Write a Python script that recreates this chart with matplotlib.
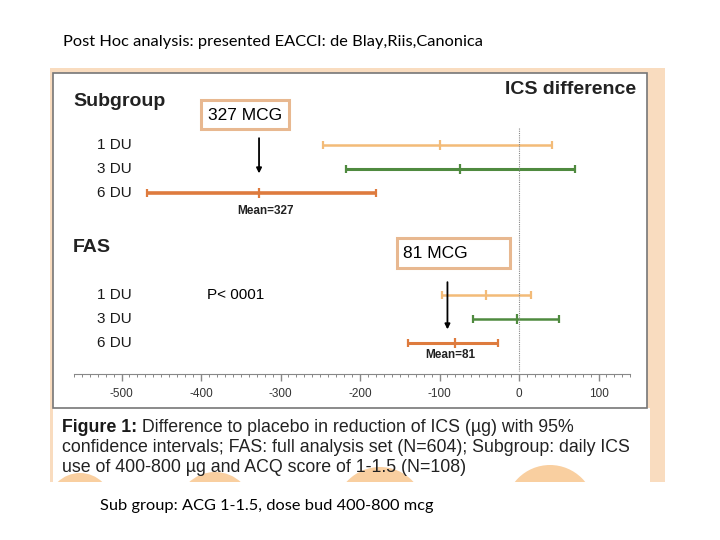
import matplotlib.pyplot as plt
import matplotlib.patches as mpatches
import numpy as np

plt.rcParams["axes.unicode_minus"] = False

# data: difference to placebo in ICS reduction (ug), 95% CI
doses = ["1 DU", "3 DU", "6 DU"]
colors = ["#f3bb78", "#4f8a3f", "#de7b3e"]

sub_mean = [-100, -74, -327]
sub_lo = [-247, -217, -468]
sub_hi = [42, 71, -180]

fas_mean = [-41, -3, -81]
fas_lo = [-97, -58, -139]
fas_hi = [15, 50, -27]

title = "Post Hoc analysis: presented EACCI: de Blay,Riis,Canonica"
footer = "Sub group: ACG 1-1.5, dose bud 400-800 mcg"
caption_bold = "Figure 1:"
caption_lines = [" Difference to placebo in reduction of ICS (\u00b5g) with 95%",
                 "confidence intervals; FAS: full analysis set (N=604); Subgroup: daily ICS",
                 "use of 400-800 \u00b5g and ACQ score of 1-1.5 (N=108)"]

W, H = 720, 540
fig = plt.figure(figsize=(7.2, 5.4), dpi=100)
fig.patch.set_facecolor("white")

# background axes in pixel coordinates
bg = fig.add_axes([0, 0, 1, 1])
bg.set_xlim(0, W)
bg.set_ylim(H, 0)
bg.axis("off")

peach = "#f9dcbf"
bg.add_patch(mpatches.Rectangle((50, 68), 615, 414, color=peach, lw=0))
bg.add_patch(mpatches.Rectangle((53, 408), 597, 74, color="white", lw=0))
# decorative orange circles of the source slide
clip = mpatches.Rectangle((53, 408), 597, 74, transform=bg.transData)
for cx, cy, r in [(80, 505, 32), (215, 510, 38), (380, 512, 45), (550, 510, 45)]:
    c = mpatches.Circle((cx, cy), r, color="#f9cfa0", lw=0)
    bg.add_patch(c)
    c.set_clip_path(clip)
bg.add_patch(mpatches.Rectangle((53, 73), 594, 335, facecolor="white", edgecolor="#777777", lw=1.2))

tf = "Liberation Sans"
bg.text(63, 42, title, fontsize=11.8, family="Lato", va="center", ha="left")
bg.text(100, 506, footer, fontsize=11.8, family="Lato", va="center", ha="left")

bg.text(73, 101, "Subgroup", fontsize=14, fontweight="bold", family=tf, va="center", color="#222222")
bg.text(73, 248, "FAS", fontsize=14, fontweight="bold", family=tf, va="center", color="#222222")
bg.text(636, 89, "ICS difference", fontsize=14, fontweight="bold", family=tf, va="center", ha="right", color="#222222")

# caption
cs = 12.8
t = bg.text(62, 427, caption_bold, fontsize=cs, fontweight="bold", family=tf, va="center", color="#1a1a1a")
fig.canvas.draw()
bb = t.get_window_extent()
x_after = bg.transData.inverted().transform((bb.x1, bb.y0))[0]
bg.text(x_after, 427, caption_lines[0], fontsize=cs, family=tf, va="center", color="#222222")
bg.text(62, 447, caption_lines[1], fontsize=cs, family=tf, va="center", color="#222222")
bg.text(62, 467, caption_lines[2], fontsize=cs, family=tf, va="center", color="#222222")

# forest plot axes over the white box
x0, px_per = 519, 0.795
ax = fig.add_axes([53 / W, 1 - 408 / H, 594 / W, 335 / H])
ax.set_facecolor("none")
ax.set_xlim((53 - x0) / px_per, (647 - x0) / px_per)
ax.set_ylim(10.96, -3.0)

sub_rows = np.arange(3)
fas_rows = 6.25 + np.arange(3)

for rows, m, lo, hi, lws in [(sub_rows, sub_mean, sub_lo, sub_hi, [1.8, 2.2, 2.6]),
                             (fas_rows, fas_mean, fas_lo, fas_hi, [1.8, 1.8, 2.2])]:
    for i in range(3):
        ax.errorbar(m[i], rows[i], xerr=[[m[i] - lo[i]], [hi[i] - m[i]]], fmt="none",
                    ecolor=colors[i], elinewidth=lws[i], capsize=3, capthick=1.6)
        ax.plot(m[i], rows[i], marker="|", ms=7, mew=1.6, color=colors[i])

for rows in [sub_rows, fas_rows]:
    for r, lab in zip(rows, doses):
        ax.text(-487, r, lab, fontsize=11, family=tf, ha="right", va="center", color="#1a1a1a")

ax.text(sub_mean[2] + 8, 2.75, "Mean=%d" % -sub_mean[2], fontsize=8.5, fontweight="bold",
        family=tf, ha="center", va="center", color="#222222")
ax.text(fas_mean[2] - 6, 8.75, "Mean=%d" % -fas_mean[2], fontsize=8.5, fontweight="bold",
        family=tf, ha="center", va="center", color="#222222")

ax.vlines(0, -0.71, 9.4, colors="#888888", linestyles=(0, (1, 1)), lw=0.8)

# annotations
arrow = dict(arrowstyle="-|>,head_length=0.3,head_width=0.15", color="black", lw=1.3)
ax.annotate("", xy=(sub_mean[2], 1.3), xytext=(sub_mean[2], -0.4), arrowprops=arrow)
ax.annotate("", xy=(-90, 7.8), xytext=(-90, 5.6), arrowprops=arrow)
bg.add_patch(mpatches.Rectangle((201, 100), 88, 29, facecolor="white", edgecolor="#e8b890", lw=2.2))
bg.text(245, 115, "327 MCG", fontsize=12.5, family=tf, ha="center", va="center")
bg.add_patch(mpatches.Rectangle((397, 238), 113, 30, facecolor="white", edgecolor="#e8b890", lw=2.2))
bg.text(403, 254, "81 MCG", fontsize=12.5, family=tf, ha="left", va="center")
bg.text(207, 295, "P< 0001", fontsize=11, family=tf, ha="left", va="center")

# x axis
for s in ["top", "left", "right"]:
    ax.spines[s].set_visible(False)
ax.spines["bottom"].set_position(("data", 9.54))
ax.spines["bottom"].set_bounds(-560, 140)
ax.spines["bottom"].set_color("#888888")
ax.set_xticks(np.arange(-500, 101, 100))
ax.set_xticks(np.arange(-560, 141, 10), minor=True)
ax.tick_params(axis="x", which="major", length=5, width=1, color="#888888", labelsize=8.5,
               labelcolor="#333333", pad=5)
ax.tick_params(axis="x", which="minor", length=2.5, width=0.7, color="#888888")
for lab in ax.get_xticklabels():
    lab.set_family(tf)
ax.set_yticks([])

fig.savefig("out.png", dpi=100)
